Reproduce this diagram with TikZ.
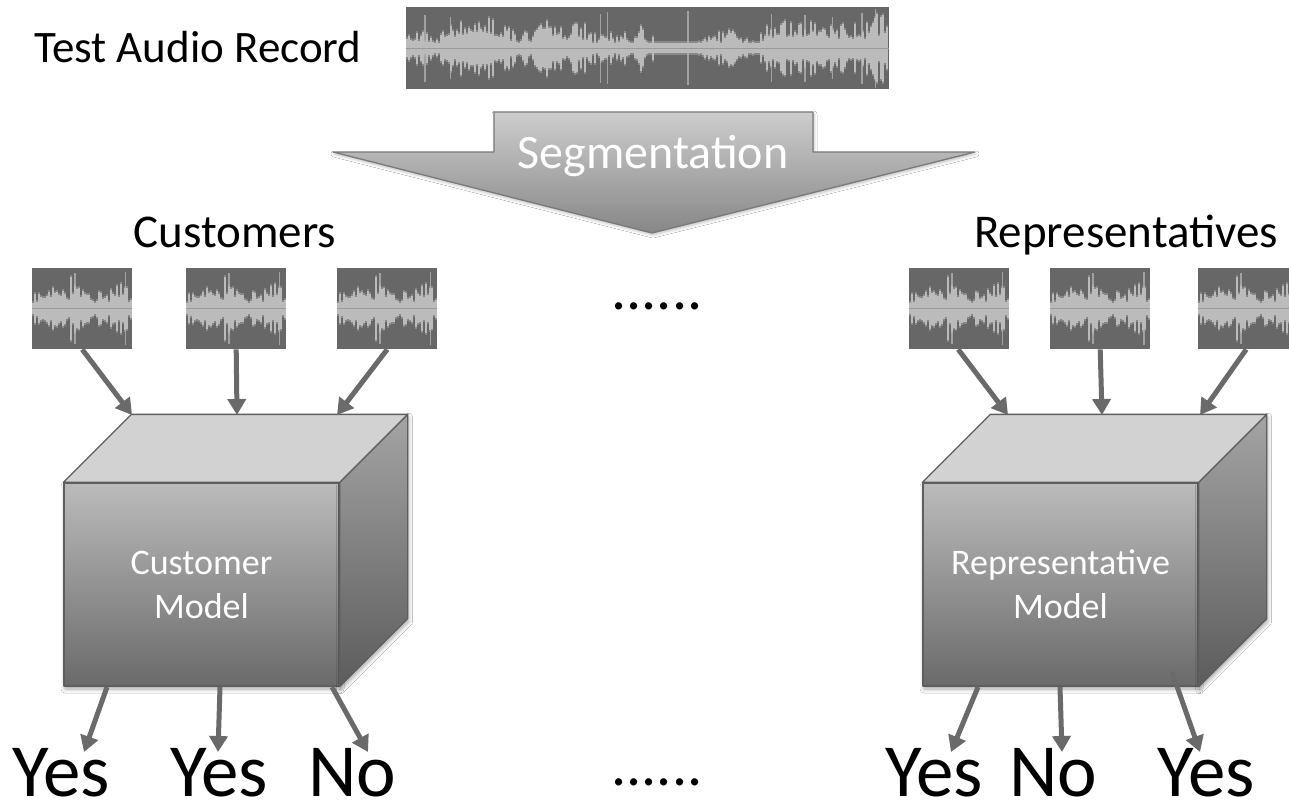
\documentclass[tikz,border=0pt]{standalone}
\usepackage{fontspec}
\setmainfont{Carlito}
\usetikzlibrary{arrows.meta,shadows.blur,calc}

\definecolor{wavebg}{HTML}{676767}
\definecolor{wavefg}{HTML}{BBBBBB}
\definecolor{wavemid}{HTML}{9A9A9A}
\definecolor{arrowgray}{HTML}{6A6A6A}
\definecolor{edgegray}{HTML}{5E5E5E}
\definecolor{frontA}{HTML}{BBBBBB}
\definecolor{frontB}{HTML}{6A6A6A}
\definecolor{sideA}{HTML}{A4A4A4}
\definecolor{sideB}{HTML}{5C5C5C}
\definecolor{topface}{HTML}{D2D2D2}
\definecolor{segA}{HTML}{CDCDCD}
\definecolor{segB}{HTML}{878787}

\tikzset{
  flow/.style={draw=arrowgray, line width=5pt,
    -{Triangle[length=16pt,width=18pt]}},
  headtext/.style={inner sep=0pt, anchor=base, font=\fontsize{47}{56}\selectfont},
  answer/.style={inner sep=0pt, anchor=base, font=\fontsize{75}{86}\selectfont},
  dotrow/.style={inner sep=0pt, anchor=base, font=\fontsize{60}{70}\selectfont},
  cubefront/.style={draw=edgegray, line width=1.3pt, line join=round,
    top color=frontA, bottom color=frontB,
    minimum width=275pt, minimum height=203pt, inner sep=0pt,
    text=white, align=center, font=\fontsize{36}{44}\selectfont,
    blur shadow={shadow xshift=1pt, shadow yshift=-3pt,
      shadow blur radius=4pt, shadow opacity=35}},
  cubeside/.style={draw=edgegray, line width=1.3pt, line join=round,
    top color=sideA, bottom color=sideB,
    blur shadow={shadow xshift=1pt, shadow yshift=-3pt,
      shadow blur radius=4pt, shadow opacity=35}},
  cubetop/.style={draw=edgegray, line width=1.3pt, line join=round, fill=topface},
  segarrow/.style={draw=arrowgray!90!white, line width=1.3pt, line join=round,
    top color=segA, bottom color=segB,
    blur shadow={shadow xshift=1pt, shadow yshift=-2pt,
      shadow blur radius=3pt, shadow opacity=25}},
}

% Waveform tile: name, left x, top y, width, height, seed
\newcommand\wavetile[6]{%
  \node[inner sep=0pt, minimum width=#4pt, minimum height=#5pt,
        anchor=north west] (#1) at (#2,#3) {};
  \fill[wavebg] (#1.north west) rectangle (#1.south east);
  \begin{scope}
  \clip (#1.north west) rectangle (#1.south east);
  \pgfmathsetseed{#6}%
  \xdef\wenv{0.4}\xdef\wtgt{0.4}%
  \pgfmathtruncatemacro\nbars{#4/2-1}%
  \foreach \k in {0,...,\nbars}{%
    \pgfmathsetmacro\nt{rnd<0.15 ? rnd : \wtgt}%
    \xdef\wtgt{\nt}%
    \pgfmathsetmacro\ne{0.6*\wenv+0.4*\nt}%
    \xdef\wenv{\ne}%
    \pgfmathsetmacro\hh{max(5,(#5/2-2)*min(1,(0.05+0.95*\ne)*(0.3+0.7*rnd)))}%
    \fill[wavefg, opacity=0.4] ($(#1.west)+(\k*2,-\hh-2)$) rectangle ++(2,2*\hh+4);
    \fill[wavefg] ($(#1.west)+(\k*2,-\hh)$) rectangle ++(2,2*\hh);
  }
  \pgfmathtruncatemacro\nspk{max(1,#4/45)}%
  \foreach \s in {1,...,\nspk}{%
    \pgfmathsetmacro\sx{rnd*(#4-2)}%
    \pgfmathsetmacro\sh{(0.75+0.25*rnd)*#5/2}%
    \fill[wavefg, opacity=0.7] ($(#1.west)+(\sx,-\sh)$) rectangle ++(1.5,2*\sh);
  }
  \end{scope}
  \draw[wavemid, line width=1pt] (#1.west) -- (#1.east);
}

% Model cube: name, centre x, centre y, text
\newcommand\modelcube[4]{%
  \node[cubefront] (#1) at (#2,#3) {#4};
  \path[cubeside] (#1.north east) -- ++(68,-68)
    -- ($(#1.south east)+(68,-68)$) -- (#1.south east) -- cycle;
  \path[cubetop] (#1.north west) -- ++(68,-68)
    -- ($(#1.north east)+(68,-68)$) -- (#1.north east) -- cycle;
}

\begin{document}
\begin{tikzpicture}[x=1pt, y=-1pt]
\path[use as bounding box, clip] (0,0) rectangle (1289,807);
\fill[white] (0,0) rectangle (1289,807);

% input record
\node[inner sep=0pt, anchor=base west, font=\fontsize{45}{54}\selectfont]
  (title) at (34,62) {Test Audio Record};
\wavetile{rec}{406}{7}{483}{82}{11}

% segmentation arrow
\path[segarrow] (494,112) -- (813,112) -- (813,152) -- (975,152)
  -- (652,233) -- (333,152) -- (494,152) -- cycle;
\node[inner sep=0pt, anchor=base, text=white,
      font=\fontsize{48}{56}\selectfont] (seg) at (653,168) {Segmentation};

% group titles
\node[headtext] (cust) at (235,247) {Customers};
\node[headtext] (reps) at (1126,247) {Representatives};

% segment tiles
\wavetile{c1}{32}{268}{100}{81}{5}
\wavetile{c2}{186}{268}{100}{81}{5}
\wavetile{c3}{337}{268}{100}{81}{5}
\wavetile{r1}{909}{268}{100}{81}{5}
\wavetile{r2}{1050}{268}{100}{81}{5}
\wavetile{r3}{1198}{268}{100}{81}{5}

% ellipses
\node[dotrow] (dtop) at (657,309) {......};
\node[dotrow] (dbot) at (657,785) {......};

% models
\modelcube{cm}{201.5}{584.5}{Customer\\Model}
\modelcube{rm}{1060.5}{584.5}{Representative\\Model}

% decisions
\node[answer] (ca1) at (61,796) {Yes};
\node[answer] (ca2) at (219,796) {Yes};
\node[answer] (ca3) at (352,796) {No};
\node[answer] (ra1) at (934,796) {Yes};
\node[answer] (ra2) at (1053,796) {No};
\node[answer] (ra3) at (1206,796) {Yes};

% connector end points on the cubes
\coordinate (cmi1) at (132,415);
\coordinate (cmi2) at (237,415);
\coordinate (cmi3) at (337,415);
\coordinate (rmi1) at (1008,415);
\coordinate (rmi2) at (1102,415);
\coordinate (rmi3) at (1200,415);
\coordinate (cmo1) at (107,687);
\coordinate (cmo2) at (220,687);
\coordinate (cmo3) at (332,687);
\coordinate (rmo1) at (978,687);
\coordinate (rmo2) at (1060,687);
\coordinate (rmo3) at (1172,672);
\coordinate (cae1) at (84,752);
\coordinate (cae2) at (218,752);
\coordinate (cae3) at (368,752);
\coordinate (rae1) at (951,752);
\coordinate (rae2) at (1062,752);
\coordinate (rae3) at (1200,752);

% segments into models
\draw[flow] (c1.south) -- (cmi1);
\draw[flow] (c2.south) -- (cmi2);
\draw[flow] (c3.south) -- (cmi3);
\draw[flow] ($(r1.south)+(-1,0)$) -- (rmi1);
\draw[flow] (r2.south) -- (rmi2);
\draw[flow] ($(r3.south)+(-2,0)$) -- (rmi3);

% models to decisions
\draw[flow] (cmo1) -- (cae1);
\draw[flow] (cmo2) -- (cae2);
\draw[flow] (cmo3) -- (cae3);
\draw[flow] (rmo1) -- (rae1);
\draw[flow] (rmo2) -- (rae2);
\draw[flow] (rmo3) -- (rae3);
\end{tikzpicture}
\end{document}
